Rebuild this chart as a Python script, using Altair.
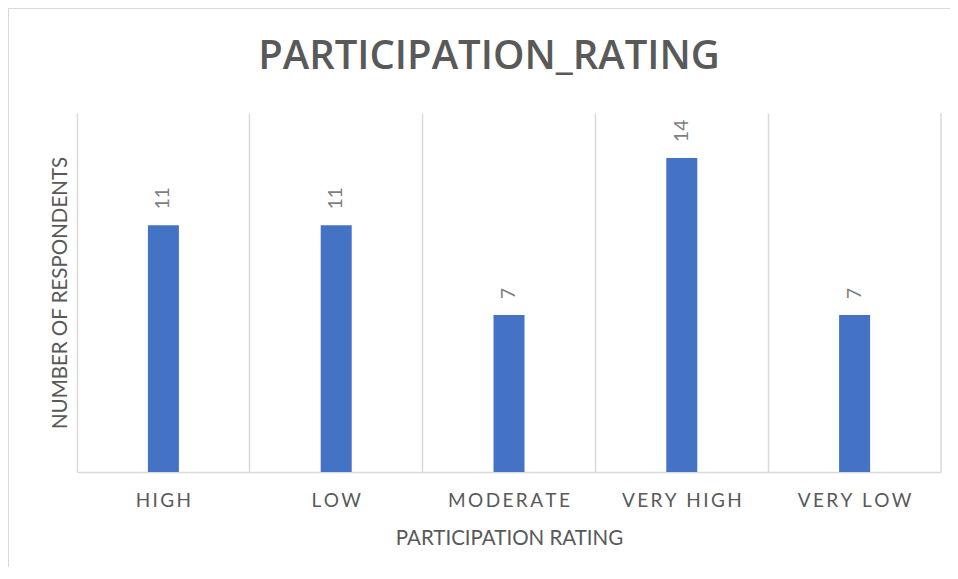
import altair as alt
import pandas as pd

categories = ["HIGH", "LOW", "MODERATE", "VERY HIGH", "VERY LOW"]
counts = [11, 11, 7, 14, 7]
title_text = "PARTICIPATION_RATING"

df = pd.DataFrame({"rating": categories, "count": counts})

W, H = 864, 359
FONT = "Lato"
GRID = "#d9d9d9"
TXT = "#595959"

x_enc = alt.X(
    "rating:N",
    sort=categories,
    scale=alt.Scale(paddingInner=0, paddingOuter=0),
    axis=alt.Axis(
        title="PARTICIPATION RATING",
        labelExpr="join(split(datum.label, ''), '\u2009')",
        labelAngle=0,
        labelFontSize=19,
        labelColor=TXT,
        labelFont=FONT,
        labelPadding=19,
        ticks=False,
        domainColor=GRID,
        domainWidth=1.5,
        grid=True,
        gridColor=GRID,
        gridWidth=1.5,
        bandPosition=0,
        titleFontSize=20.5,
        titleFont=FONT,
        titleColor=TXT,
        titleFontWeight="normal",
        titlePadding=18,
    ),
)
y_enc = alt.Y(
    "count:Q",
    scale=alt.Scale(domain=[0, 16]),
    axis=alt.Axis(
        title="NUMBER OF RESPONDENTS",
        labels=False,
        ticks=False,
        domain=False,
        grid=False,
        titleFontSize=20.5,
        titleFont=FONT,
        titleColor=TXT,
        titleFontWeight="normal",
        titlePadding=7,
    ),
)

bars = alt.Chart(df).mark_bar(size=31, color="#4472C4").encode(x=x_enc, y=y_enc)

labels = alt.Chart(df).mark_text(
    angle=270, align="left", baseline="middle", dx=16, fontSize=19, font=FONT, color="#7f7f7f"
).encode(x=alt.X("rating:N", sort=categories), y="count:Q", text="count:Q")

one = pd.DataFrame({"k": [0]})
right_edge = alt.Chart(one).mark_rule(color=GRID, strokeWidth=1.5).encode(
    x=alt.value(W), y=alt.value(0), y2=alt.value(H)
)
border_top = alt.Chart(one).mark_rule(color=GRID, strokeWidth=2).encode(
    x=alt.value(-70), x2=alt.value(W + 9), y=alt.value(-105)
)
border_left = alt.Chart(one).mark_rule(color=GRID, strokeWidth=2).encode(
    x=alt.value(-69), y=alt.value(-105), y2=alt.value(H + 95)
)
title = alt.Chart(one).mark_text(
    fontSize=40, font="Open Sans", fontWeight=600, color=TXT, align="center", baseline="alphabetic"
).encode(x=alt.value(W / 2 - 20), y=alt.value(-44), text=alt.value(title_text))

chart = alt.layer(border_top, border_left, right_edge, bars, labels, title).properties(
    width=W,
    height=H,
    autosize=alt.AutoSizeParams(type="none"),
    padding={"left": 69, "top": 105, "right": 9, "bottom": 95},
).configure_view(stroke=None)

chart.save("out.html", embed_options={"renderer": "svg", "actions": False})
